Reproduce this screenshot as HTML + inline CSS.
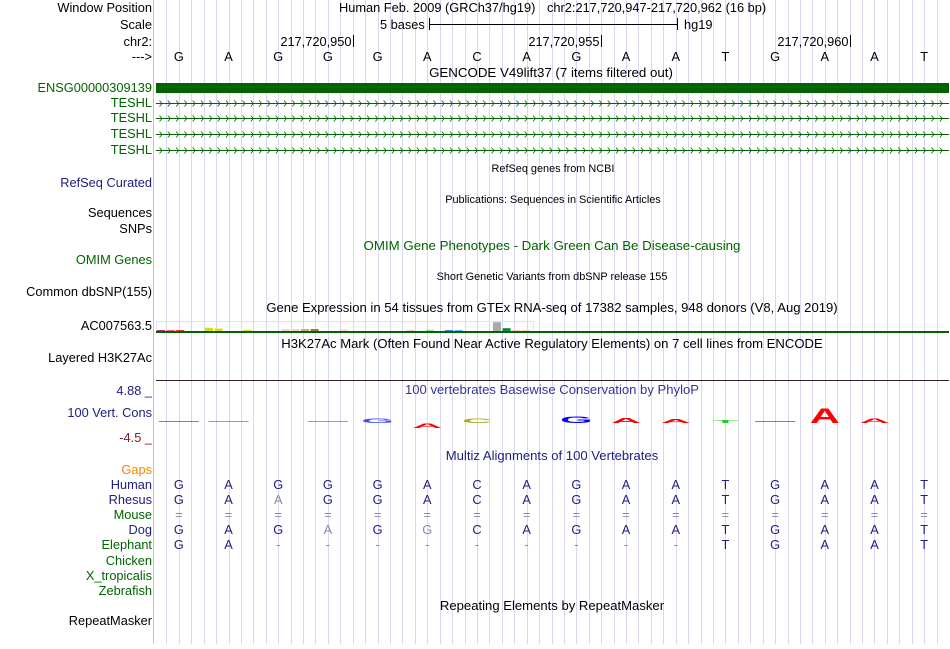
<!DOCTYPE html>
<html><head><meta charset="utf-8">
<style>
body{margin:0;background:#fff;width:950px;height:644px;overflow:hidden;font-family:"Liberation Sans",sans-serif}
svg text{font-family:"Liberation Sans",sans-serif}
</style></head><body>
<svg id="c" width="950" height="644" xmlns="http://www.w3.org/2000/svg">
<g id="grid"></g>
<line x1="153.5" y1="0" x2="153.5" y2="644" stroke="#ffaaaa"/>
<g id="labels" font-size="12.8" text-anchor="end"></g>
<g id="tracks"></g>
</svg>
<script>
const bases=["G","A","G","G","G","A","C","A","G","A","A","T","G","A","A","T"];
const rhesus=["G","A","A","G","G","A","C","A","G","A","A","T","G","A","A","T"];
const rhesusGray=[0,0,1,0,0,0,0,0,0,0,0,0,0,0,0,0];
const dog=["G","A","G","A","G","G","C","A","G","A","A","T","G","A","A","T"];
const dogGray=[0,0,0,1,0,1,0,0,0,0,0,0,0,0,0,0];
const elephant=["G","A","-","-","-","-","-","-","-","-","-","T","G","A","A","T"];
const consScores=[0.05,0.05,0,0.05,0.3,-0.3,0.3,0,0.45,0.35,0.25,0.2,0.05,1.0,0.3,0];
const consColors=["#4444ff","#ff4444","#fff","#ff4444","#4444ff","#ff0000","#aaaa22","#fff","#0000ff","#ff0000","#ff0000","#22cc22","#4444ff","#ff0000","#ff0000","#fff"];
const gtexVals=[0.2,0.2,0.2,0,0,0.8,0.6,0,0,0.3,0,0,0,0.5,0.5,0.5,0.5,0,0,0.4,0,0,0,0,0,0,0.3,0,0.3,0,0.2,0.2,0,0,0,2.2,0.7,0.3,0.3];
const gtexColors=["#990066","#ff3333","#ff0000","#fff","#fff","#dddd00","#dddd00","#fff","#fff","#dddd00","#fff","#fff","#fff","#ffcccc","#ffcccc","#ccaa88","#997744","#fff","#fff","#ffcccc","#fff","#fff","#fff","#fff","#fff","#fff","#ffcccc","#fff","#99dd99","#fff","#2266ff","#22aaff","#fff","#fff","#fff","#aaaaaa","#008844","#ffcccc","#ffcccc"];
const NS="http://www.w3.org/2000/svg";
const X0=154,W=795,bw=W/16;
const bx=i=>X0+bw*(i+0.5);
function el(tag,attrs,parent,txt){const e=document.createElementNS(NS,tag);for(const k in attrs)e.setAttribute(k,attrs[k]);if(txt!==undefined)e.textContent=txt;(parent||document.getElementById('tracks')).appendChild(e);return e;}
const grid=document.getElementById('grid');
for(let k=1;k<64;k++){const x=Math.round(X0+W/64*k)+0.5;const l=el('line',{x1:x,y1:0,x2:x,y2:644,stroke:'#d8d8f4'},grid);

}
const L=document.getElementById('labels');
const labels=[["Window Position",12,"#000"],["Scale",29,"#000"],["chr2:",46,"#000"],["--->",61,"#000"],["ENSG00000309139",92,"#006400"],["TESHL",107,"#006400"],["TESHL",122,"#006400"],["TESHL",138,"#006400"],["TESHL",154,"#006400"],["RefSeq Curated",187,"#202080"],["Sequences",217,"#000"],["SNPs",233,"#000"],["OMIM Genes",264,"#006400"],["Common dbSNP(155)",296,"#000"],["AC007563.5",330,"#000"],["Layered H3K27Ac",362,"#000"],["4.88 _",395,"#202080"],["100 Vert. Cons",417,"#202080"],["-4.5 _",442,"#802020"],["Gaps",474,"#ee8800"],["Human",489,"#202080"],["Rhesus",504,"#202080"],["Mouse",519,"#006400"],["Dog",534,"#202080"],["Elephant",549,"#006400"],["Chicken",565,"#006400"],["X_tropicalis",580,"#006400"],["Zebrafish",595,"#006400"],["RepeatMasker",625,"#000"]];
labels.forEach(([t,y,c])=>{const e=el('text',{x:152,y:y,fill:c},L,t);

});
const T=document.getElementById('tracks');
el('text',{x:339,y:12,'font-size':12.8},T,"Human Feb. 2009 (GRCh37/hg19)");
el('text',{x:547,y:12,'font-size':12.8},T,"chr2:217,720,947-217,720,962 (16 bp)");
el('text',{x:380,y:29,'font-size':12.8},T,"5 bases");
el('line',{x1:429.5,y1:18,x2:429.5,y2:30,stroke:'#000'},T);el('line',{x1:677.5,y1:18,x2:677.5,y2:30,stroke:'#000'},T);
el('line',{x1:429,y1:24.5,x2:678,y2:24.5,stroke:'#000'},T);
el('text',{x:684,y:29,'font-size':12.8},T,"hg19");
[[217720950,3],[217720955,8],[217720960,13]].forEach(([v,i])=>{const x=Math.round(X0+bw*(i+1))+0.5;
const t=el('text',{x:x-2,y:46,'font-size':12.8,'text-anchor':'end'},T,v.toLocaleString('en-US'));


el('line',{x1:x,y1:35,x2:x,y2:47,stroke:'#000'},T);});
bases.forEach((b,i)=>{const t=el('text',{x:bx(i),y:61,'font-size':12.8,'text-anchor':'middle'},T,b);

});
el('text',{x:551,y:77,'font-size':13.3,'text-anchor':'middle'},T,"GENCODE V49lift37 (7 items filtered out)");
const g1=el('rect',{x:156,y:83,width:793,height:10,fill:'#006400'},T);

[103,118,134,150].forEach(y=>{const l=el('line',{x1:156,y1:y+.5,x2:949,y2:y+.5,stroke:'#006400'},T);

for(let x=162;x<949;x+=8.3)el('path',{d:`M${x-2.5},${y-2.5}L${x},${y+.5}L${x-2.5},${y+3.5}`,stroke:'#006400',fill:'none','stroke-width':0.8},T);});
el('text',{x:553,y:172,'font-size':10.9,'text-anchor':'middle'},T,"RefSeq genes from NCBI");
el('text',{x:553,y:203,'font-size':10.9,'text-anchor':'middle'},T,"Publications: Sequences in Scientific Articles");
el('text',{x:552,y:250,'font-size':13.3,'text-anchor':'middle',fill:'#006400'},T,"OMIM Gene Phenotypes - Dark Green Can Be Disease-causing");
el('text',{x:552,y:280,'font-size':10.9,'text-anchor':'middle'},T,"Short Genetic Variants from dbSNP release 155");
el('text',{x:552,y:312,'font-size':13.1,'text-anchor':'middle'},T,"Gene Expression in 54 tissues from GTEx RNA-seq of 17382 samples, 948 donors (V8, Aug 2019)");
el('rect',{x:156.5,y:321.5,width:377,height:10,fill:'none',stroke:'#e4e4e4'},T);
gtexVals.forEach((v,i)=>{if(!v)return;const h=Math.min(10,v*4);const r=el('rect',{x:157+i*9.6,y:331-h,width:8,height:h,fill:gtexColors[i]},T);
});
el('rect',{x:156,y:331,width:793,height:2,fill:'#006400'},T);
el('text',{x:552,y:348,'font-size':13.1,'text-anchor':'middle'},T,"H3K27Ac Mark (Often Found Near Active Regulatory Elements) on 7 cell lines from ENCODE");
el('line',{x1:156,y1:380.5,x2:949,y2:380.5,stroke:'#332233'},T);
el('text',{x:552,y:394,'font-size':13.1,'text-anchor':'middle',fill:'#333399'},T,"100 vertebrates Basewise Conservation by PhyloP");
const y0=423;
consScores.forEach((s,i)=>{if(!s)return;const h=Math.abs(s)*16;
if(h<2){const l=el('line',{x1:bx(i)-20,y1:y0-1.5,x2:bx(i)+20,y2:y0-1.5,stroke:consColors[i],'stroke-width':0.8},T);return;}
const sy=h/12;const t=el('text',{x:0,y:0,'font-size':16,'font-weight':'bold','text-anchor':'middle',fill:consColors[i],transform:`translate(${bx(i)},${s>0?y0:y0+h}) scale(2.6,${sy})`},T,bases[i]);
});
el('text',{x:552,y:460,'font-size':13.1,'text-anchor':'middle',fill:'#202080'},T,"Multiz Alignments of 100 Vertebrates");
function row(arr,y,gray,color){arr.forEach((b,i)=>{const t=el('text',{x:bx(i),y:y,'font-size':12.8,'text-anchor':'middle',fill:(gray&&gray[i])||b=='-'||b=='='?'#8888aa':color},T,b);
});}
row(bases,489,null,'#202080');row(rhesus,504,rhesusGray,'#202080');row(bases.map(()=>"="),519,null,'#202080');
row(dog,534,dogGray,'#202080');row(elephant,549,null,'#202080');
el('text',{x:552,y:610,'font-size':13.1,'text-anchor':'middle'},T,"Repeating Elements by RepeatMasker");
</script>
</body></html>
